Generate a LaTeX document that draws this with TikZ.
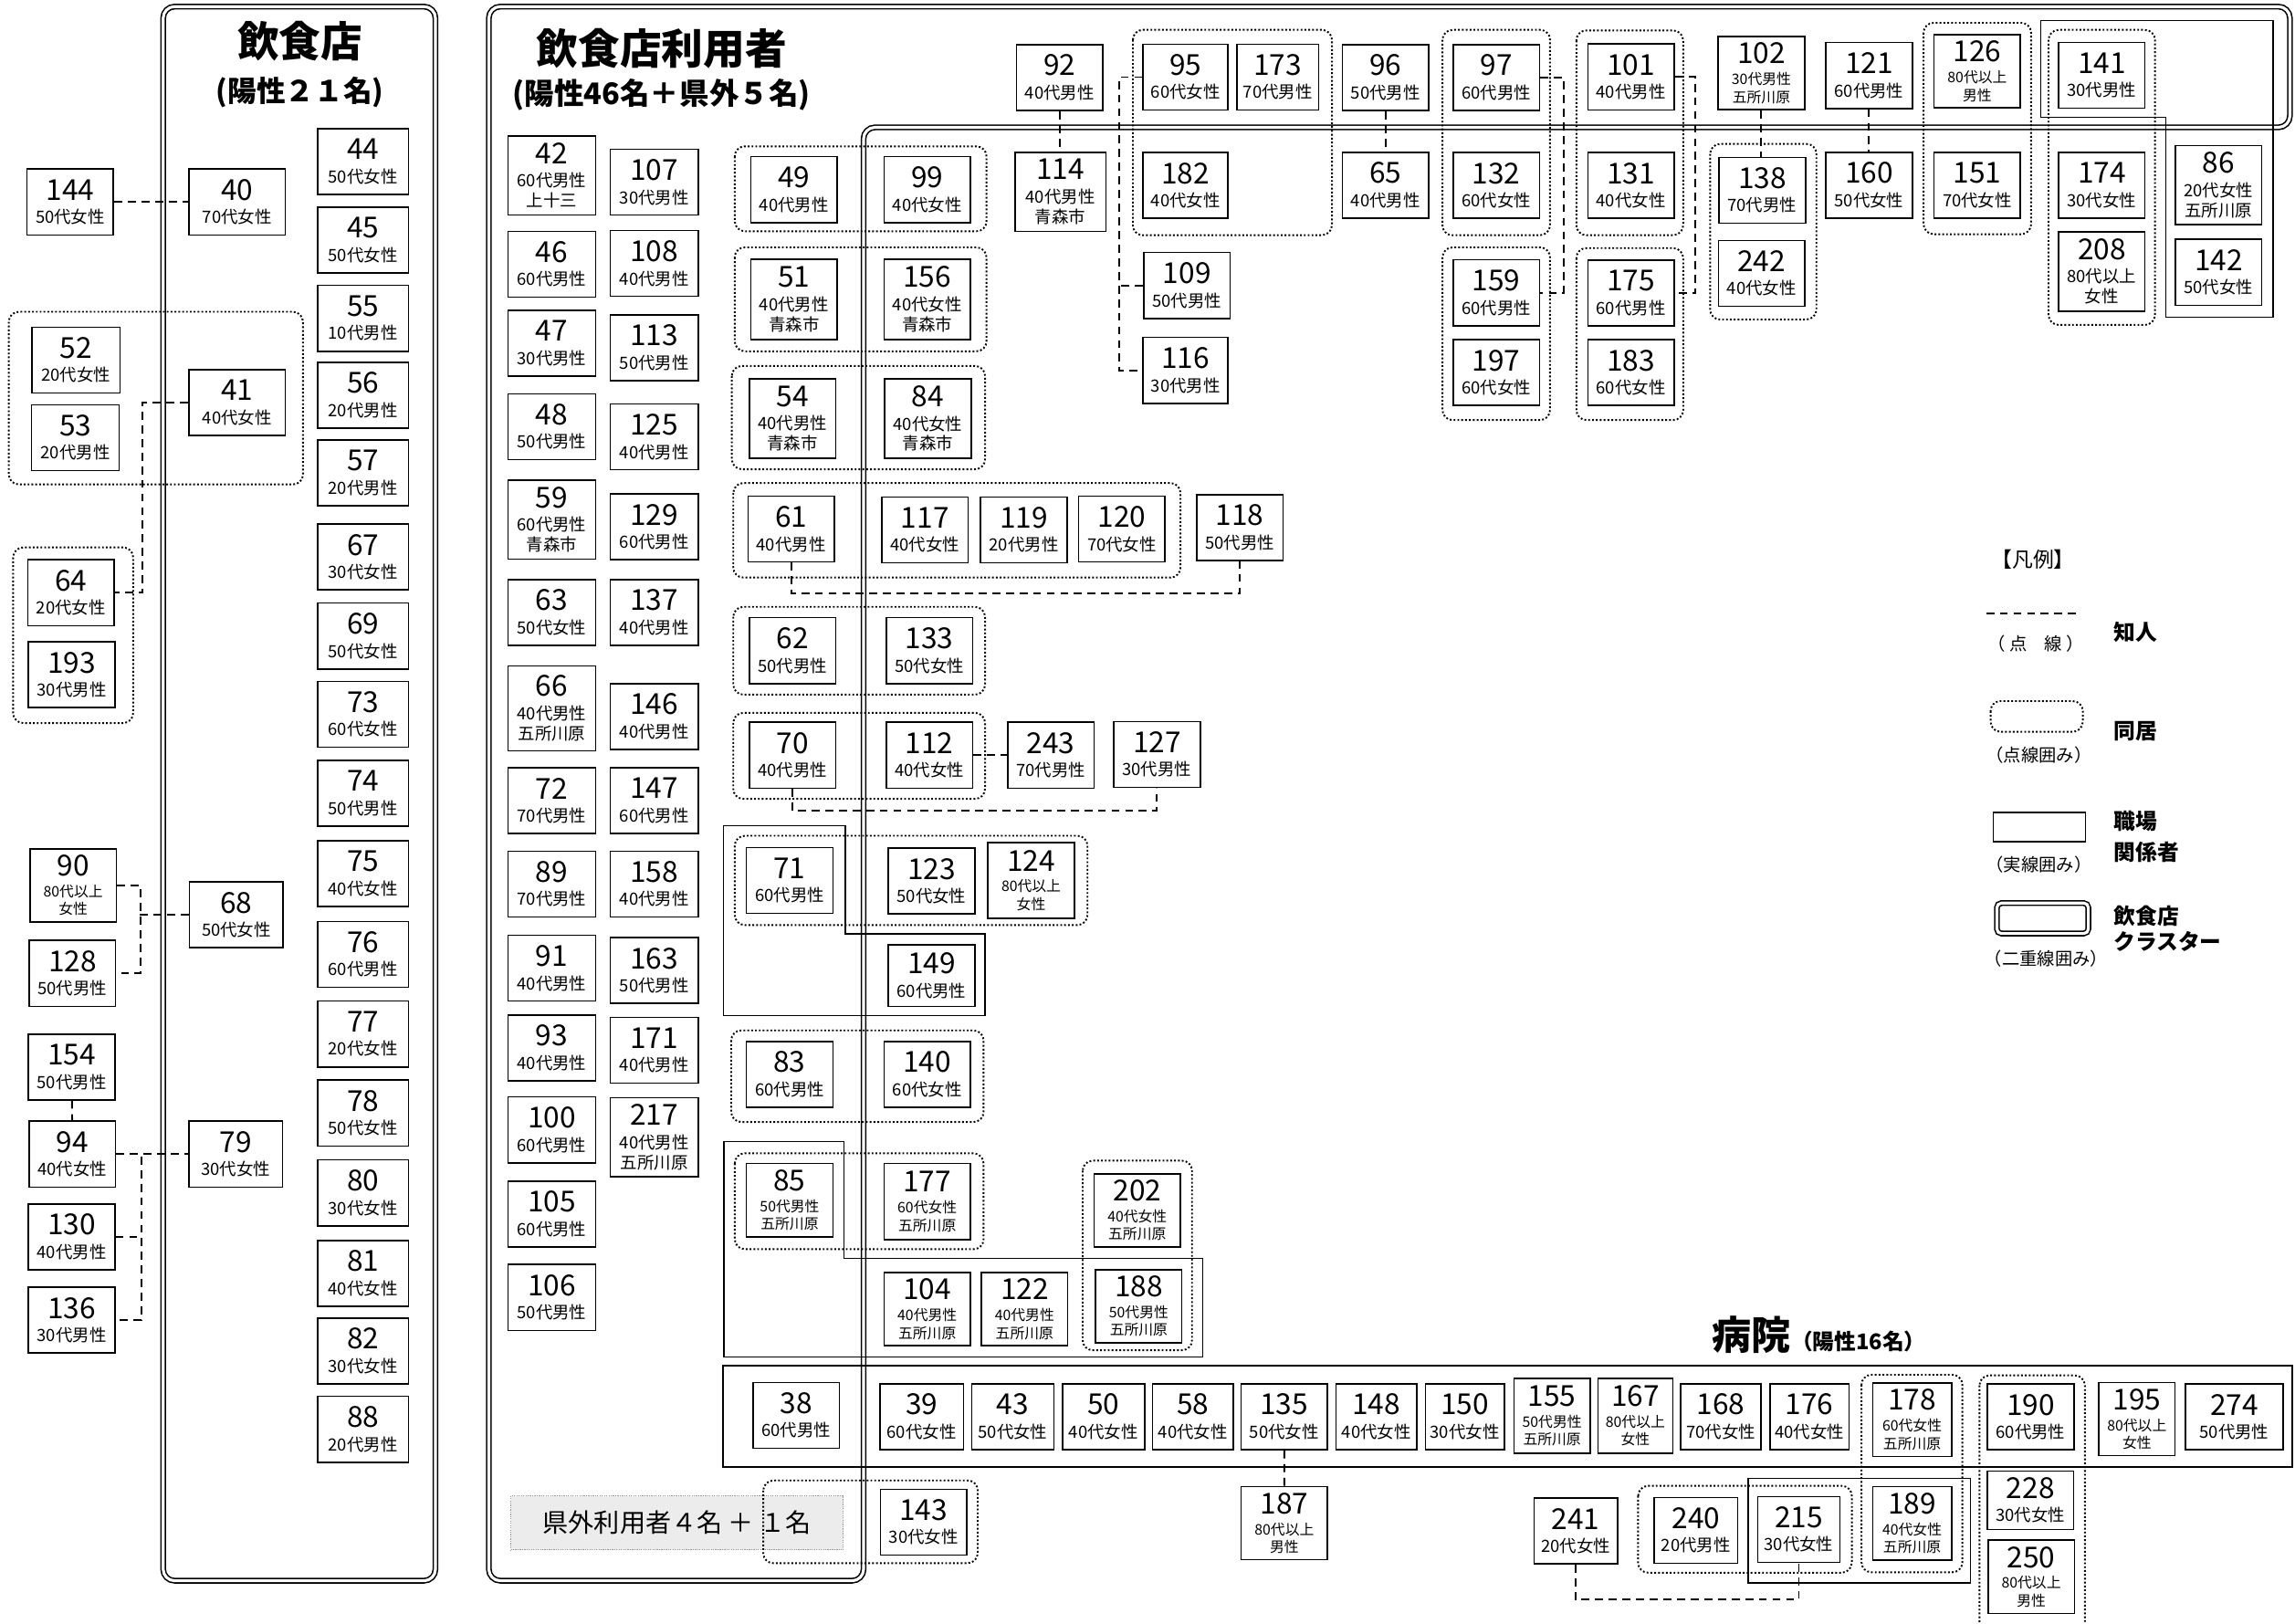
\documentclass[tikz,border=0pt]{standalone}
\usepackage{fontspec}
\setmainfont{Noto Sans CJK JP}
\newlength{\spx}\setlength{\spx}{0.32066mm}
\newcommand{\pc}[2]{{\fontsize{18}{18}\selectfont #1}\\[2pt]#2}

\begin{document}
\begin{tikzpicture}[x=\spx, y=-\spx,
    person/.style={draw, line width=0.9pt, fill=white, inner sep=0pt, align=center,
                   minimum width=59*\spx, minimum height=45*\spx,
                   font=\fontsize{10.5}{12.5}\selectfont},
    sm/.style={font=\fontsize{9}{11}\selectfont},
    bw/.style={minimum width=#1*\spx},
    bh/.style={minimum height=#1*\spx},
    grp/.style={line width=1.1pt, dash pattern=on 1.1pt off 1.3pt, rounded corners=2.2mm},
    work/.style={line width=0.8pt},
    dframe/.style={line width=0.9pt, double, double distance=1.8pt, rounded corners=2.5mm},
    acq/.style={line width=1.1pt, dash pattern=on 5pt off 3.5pt},
    title/.style={font=\bfseries\fontsize{26}{26}\selectfont, inner sep=0pt},
    sub/.style={font=\bfseries\fontsize{18}{18}\selectfont, inner sep=0pt},
    note/.style={font=\fontsize{11}{12}\selectfont, inner sep=0pt},
    lgl/.style={font=\bfseries\fontsize{13.5}{19}\selectfont, inner sep=0pt, anchor=west, align=left}]
  \useasboundingbox (0,0) rectangle (1568,1109);

  % cluster frames
  \draw[dframe] (111.5,4.5) rectangle (297.5,1080);
  \draw[dframe] (334,4.5) -- (1564.5,4.5) -- (1564.5,87) -- (590,87) -- (590,1080) -- (334,1080) -- cycle;
  \node[title] (tshop) at (205,28) {飲食店};
  \node[sub] (tshopn) at (205,63) {(陽性２１名)};
  \node[title] (tuser) at (452,33) {飲食店利用者};
  \node[sub, font=\bfseries\fontsize{18.5}{18.5}\selectfont] (tusern) at (452,65) {(陽性46名＋県外５名)};

  % households
  \draw[grp] (6,213) rectangle (207,331);
  \draw[grp] (9,374) rectangle (91,494);
  \draw[grp] (502,100) rectangle (674,158);
  \draw[grp] (502,169) rectangle (674,240);
  \draw[grp] (500,250) rectangle (673,320.6);
  \draw[grp] (501,330) rectangle (806.5,394.6);
  \draw[grp] (501,414.6) rectangle (673,474.6);
  \draw[grp] (501,487) rectangle (673,545.8);
  \draw[grp] (502,571) rectangle (743,632);
  \draw[grp] (499.6,704) rectangle (672,766.6);
  \draw[grp] (502,788) rectangle (672,853.5);
  \draw[grp] (739.7,793) rectangle (814.4,922.5);
  \draw[grp] (774,20.4) rectangle (910,160.7);
  \draw[grp] (985.5,20.4) rectangle (1059,160.7);
  \draw[grp] (985.5,169) rectangle (1059,287);
  \draw[grp] (1077,20.8) rectangle (1150,160.7);
  \draw[grp] (1077,169.5) rectangle (1150,287);
  \draw[grp] (1168.4,98.3) rectangle (1241,218.3);
  \draw[grp] (1314.2,15.6) rectangle (1387.7,160);
  \draw[grp] (1399.6,20.4) rectangle (1472.3,222);
  \draw[grp] (1119.2,1015.2) rectangle (1265.2,1074.5);
  \draw[grp] (1271.8,939.3) rectangle (1340.7,1074.2);
  \draw[grp] (1352.4,939.7) rectangle (1424.4,1118);

  % workplaces
  \draw[work] (494.4,564) -- (577.6,564) -- (577.6,638) -- (673,638) -- (673,694) -- (494.4,694) -- cycle;
  \draw[work] (494.6,780) -- (576.5,780) -- (576.5,859.6) -- (821.8,859.6) -- (821.8,927.3) -- (494.6,927.3) -- cycle;
  \draw[work] (1194.3,1010) rectangle (1346.2,1081.5);
  \draw[work] (1394.4,14.1) -- (1552.9,14.1) -- (1552.9,216.6) -- (1479.8,216.6) -- (1479.8,80) -- (1394.4,80) -- cycle;
  \draw[line width=1.3pt] (494,933) rectangle (1566,1002.5);
  \node[font=\bfseries\fontsize{24.5}{25}\selectfont, inner sep=0pt] (hosp) at (1196.5,912) {病院};
  \node[font=\bfseries\fontsize{13.5}{14}\selectfont, inner sep=0pt, anchor=base west] (hospn) at (hosp.base east) {（陽性16名）};

  \node[draw=gray!80, line width=0.6pt, dash pattern=on 0.7pt off 0.7pt, fill=gray!15,
        minimum width=227*\spx, minimum height=37*\spx,
        font=\fontsize{16}{16}\selectfont] (kengai) at (462.5,1040.5) {県外利用者４名 ＋ １名};
  \draw[grp] (521.5,1011.5) rectangle (668,1068);

  % restaurant side
  \node[person] (p144) at (48,138) {\pc{144}{50代女性}};
  \node[person, bw=60] (p52) at (52,246) {\pc{52}{20代女性}};
  \node[person, bw=60] (p53) at (51.5,299) {\pc{53}{20代男性}};
  \node[person] (p64) at (48.5,405) {\pc{64}{20代女性}};
  \node[person] (p193) at (49,461) {\pc{193}{30代男性}};
  \node[person, sm, bh=50] (p90) at (50,605) {\pc{90}{80代以上\\女性}};
  \node[person] (p128) at (49.5,665) {\pc{128}{50代男性}};
  \node[person] (p154) at (49,729) {\pc{154}{50代男性}};
  \node[person] (p94) at (49.5,788.5) {\pc{94}{40代女性}};
  \node[person] (p130) at (49,845) {\pc{130}{40代男性}};
  \node[person] (p136) at (49,902) {\pc{136}{30代男性}};
  \node[person, bw=66] (p40) at (162,138) {\pc{40}{70代女性}};
  \node[person, bw=66] (p41) at (162,275) {\pc{41}{40代女性}};
  \node[person, bw=64] (p68) at (161.5,625) {\pc{68}{50代女性}};
  \node[person, bw=64] (p79) at (161,788.5) {\pc{79}{30代女性}};
  \foreach \nn/\yy/\lb in {44/110.5/50代女性, 45/164/50代女性, 55/217.5/10代男性, 56/270/20代男性,
      57/323/20代男性, 67/380.5/30代女性, 69/434.5/50代女性, 73/488/60代女性, 74/542/50代男性,
      75/597/40代女性, 76/652/60代男性, 77/706.5/20代女性, 78/760.5/50代女性, 80/815/30代女性,
      81/870/40代女性, 82/923/30代女性, 88/976.5/20代男性}
    \node[person, bw=62] (p\nn) at (248,\yy) {\pc{\nn}{\lb}};

  % users, left columns
  \foreach \nn/\yy/\hh/\lb in {42/120/54/60代男性\\上十三, 46/180.5/45/60代男性, 47/234.5/45/30代男性,
      48/291.5/45/50代男性, 59/355/54/60代男性\\青森市, 63/418.5/45/50代女性,
      66/484/58/40代男性\\五所川原, 72/547/45/70代男性, 89/604/45/70代男性, 91/661.5/45/40代男性,
      93/716/45/40代男性, 100/772/45/60代男性, 105/829.5/45/60代男性, 106/886.5/45/50代男性}
    \node[person, bw=60, bh=\hh] (p\nn) at (377,\yy) {\pc{\nn}{\lb}};
  \foreach \nn/\yy/\hh/\lb in {107/124.5/45/30代男性, 108/180/45/40代男性, 113/237.5/45/50代男性,
      125/298.5/45/40代男性, 129/360/45/60代男性, 137/418.5/45/40代男性, 146/489.5/45/40代男性,
      147/547/45/60代男性, 158/604/45/40代男性, 163/663/45/50代男性, 171/717.5/45/40代男性,
      217/777/54/40代男性\\五所川原}
    \node[person, bw=60, bh=\hh] (p\nn) at (447,\yy) {\pc{\nn}{\lb}};

  % users, middle
  \node[person] (p49) at (542.5,129.5) {\pc{49}{40代男性}};
  \node[person] (p99) at (633.5,129.5) {\pc{99}{40代女性}};
  \node[person, bh=55] (p51) at (542.5,204.5) {\pc{51}{40代男性\\青森市}};
  \node[person, bh=55] (p156) at (633.5,204.5) {\pc{156}{40代女性\\青森市}};
  \node[person, bh=54] (p54) at (541.5,286) {\pc{54}{40代男性\\青森市}};
  \node[person, bh=54] (p84) at (634,286) {\pc{84}{40代女性\\青森市}};
  \node[person] (p61) at (540.5,361.5) {\pc{61}{40代男性}};
  \node[person] (p117) at (632,362) {\pc{117}{40代女性}};
  \node[person] (p119) at (699.5,362) {\pc{119}{20代男性}};
  \node[person] (p120) at (766.5,361.5) {\pc{120}{70代女性}};
  \node[person] (p118) at (847,360.5) {\pc{118}{50代男性}};
  \node[person] (p62) at (541.5,444.5) {\pc{62}{50代男性}};
  \node[person] (p133) at (635,444.5) {\pc{133}{50代女性}};
  \node[person] (p70) at (541.5,516) {\pc{70}{40代男性}};
  \node[person] (p112) at (635,516) {\pc{112}{40代女性}};
  \node[person] (p243) at (718,516) {\pc{243}{70代男性}};
  \node[person] (p127) at (790.5,515.5) {\pc{127}{30代男性}};
  \node[person] (p71) at (539.5,601.5) {\pc{71}{60代男性}};
  \node[person] (p123) at (636.5,602) {\pc{123}{50代女性}};
  \node[person, sm, bh=52] (p124) at (704.5,601.5) {\pc{124}{80代以上\\女性}};
  \node[person, bh=42] (p149) at (636.5,666.5) {\pc{149}{60代男性}};
  \node[person] (p83) at (539.5,734) {\pc{83}{60代男性}};
  \node[person] (p140) at (633.5,734) {\pc{140}{60代女性}};
  \node[person, sm, bh=50] (p85) at (539.5,820) {\pc{85}{50代男性\\五所川原}};
  \node[person, sm, bh=52] (p177) at (633.5,821) {\pc{177}{60代女性\\五所川原}};
  \node[person, sm, bh=50] (p202) at (777,827) {\pc{202}{40代女性\\五所川原}};
  \node[person, sm, bh=50] (p104) at (633.5,894.5) {\pc{104}{40代男性\\五所川原}};
  \node[person, sm, bh=50] (p122) at (700,894.5) {\pc{122}{40代男性\\五所川原}};
  \node[person, sm, bh=50] (p188) at (778,892.5) {\pc{188}{50代男性\\五所川原}};
  \node[person] (p143) at (631,1040) {\pc{143}{30代女性}};

  % users, top row
  \node[person] (p92) at (724,53) {\pc{92}{40代男性}};
  \node[person, bw=62, bh=54] (p114) at (724.5,131) {\pc{114}{40代男性\\青森市}};
  \node[person, bw=58] (p95) at (810,52.7) {\pc{95}{60代女性}};
  \node[person, bw=56] (p173) at (873,52.7) {\pc{173}{70代男性}};
  \node[person, bw=58] (p182) at (810,126.7) {\pc{182}{40代女性}};
  \node[person] (p109) at (811,195) {\pc{109}{50代男性}};
  \node[person, bw=58] (p116) at (810,253) {\pc{116}{30代男性}};
  \node[person] (p96) at (946.7,53) {\pc{96}{50代男性}};
  \node[person] (p65) at (946.7,126.5) {\pc{65}{40代男性}};
  \node[person] (p97) at (1022.3,53) {\pc{97}{60代男性}};
  \node[person] (p132) at (1022.3,126.7) {\pc{132}{60代女性}};
  \node[person] (p159) at (1022.3,200) {\pc{159}{60代男性}};
  \node[person] (p197) at (1022.3,254.5) {\pc{197}{60代女性}};
  \node[person] (p101) at (1114.3,52.6) {\pc{101}{40代男性}};
  \node[person] (p131) at (1114.3,126.7) {\pc{131}{40代女性}};
  \node[person] (p175) at (1114.3,200.3) {\pc{175}{60代男性}};
  \node[person] (p183) at (1114.3,254.5) {\pc{183}{60代女性}};
  \node[person, sm, bh=50] (p102) at (1203.4,50) {\pc{102}{30代男性\\五所川原}};
  \node[person] (p138) at (1204,130) {\pc{138}{70代男性}};
  \node[person] (p242) at (1203.6,186.8) {\pc{242}{40代女性}};
  \node[person] (p121) at (1277,51.6) {\pc{121}{60代男性}};
  \node[person] (p160) at (1277,126.5) {\pc{160}{50代女性}};
  \node[person, sm, bh=50] (p126) at (1350.9,48.7) {\pc{126}{80代以上\\男性}};
  \node[person] (p151) at (1350.9,126.5) {\pc{151}{70代女性}};
  \node[person] (p141) at (1436,51.4) {\pc{141}{30代男性}};
  \node[person] (p174) at (1436,126.5) {\pc{174}{30代女性}};
  \node[person, bh=54] (p208) at (1436,185.5) {\pc{208}{80代以上\\女性}};
  \node[person, bh=54] (p86) at (1515.8,126.6) {\pc{86}{20代女性\\五所川原}};
  \node[person] (p142) at (1515.8,186) {\pc{142}{50代女性}};

  % hospital
  \node[person] (p38) at (544,967) {\pc{38}{60代男性}};
  \foreach \nn/\xx/\ww/\lb in {39/629.7/57/60代女性, 43/692/56/50代女性, 50/754/56/40代女性,
      58/815/55/40代女性, 135/877.4/59/50代女性, 148/940.4/55/40代女性, 150/1000.8/54/30代女性,
      168/1175.7/55/70代女性, 176/1236.3/54/40代女性, 190/1387.4/59/60代男性, 274/1526.5/67/50代男性}
    \node[person, bw=\ww] (p\nn) at (\xx,968) {\pc{\nn}{\lb}};
  \node[person, sm, bw=52, bh=51] (p155) at (1060.4,967.4) {\pc{155}{50代男性\\五所川原}};
  \node[person, sm, bw=51, bh=51] (p167) at (1117.3,967.4) {\pc{167}{80代以上\\女性}};
  \node[person, sm, bw=54, bh=50] (p178) at (1306.4,970) {\pc{178}{60代女性\\五所川原}};
  \node[person, sm, bw=52, bh=50] (p195) at (1460,969.5) {\pc{195}{80代以上\\女性}};
  \node[person, sm, bh=50] (p187) at (877.5,1040.6) {\pc{187}{80代以上\\男性}};
  \node[person, bw=57] (p241) at (1076.6,1046) {\pc{241}{20代女性}};
  \node[person, bw=57] (p240) at (1158.7,1045.6) {\pc{240}{20代男性}};
  \node[person, bw=56] (p215) at (1229,1045) {\pc{215}{30代女性}};
  \node[person, sm, bw=54, bh=50] (p189) at (1306.4,1040.8) {\pc{189}{40代女性\\五所川原}};
  \node[person, bh=40] (p228) at (1387.3,1025) {\pc{228}{30代女性}};
  \node[person, sm, bh=50] (p250) at (1387.8,1077.3) {\pc{250}{80代以上\\男性}};

  % acquaintances
  \draw[acq] (p144) -- (p40);
  \draw[acq] (p41.west) -- ++(-31,0) |- (p64.east);
  \draw[acq] (p90.east) -- ++(16,0) |- (p128.east);
  \draw[acq] (p68.west) -- ++(-34,0);
  \draw[acq] (p154) -- (p94);
  \draw[acq] (p94) -- (p79);
  \draw[acq] (p94.east) -- ++(17,0) |- (p136.east);
  \draw[acq] (p130.east) -- ++(17,0);
  \draw[acq] (p92.south) -- (p92.south |- p114.north);
  \draw[acq] (p95.west) -- ++(-16,0) |- (p116.west);
  \draw[acq] (p109.west) -- ++(-16,0);
  \draw[acq] (p96) -- (p65);
  \draw[acq] (p97.east) -- ++(16,0) |- (p159.east);
  \draw[acq] (p101.east) -- ++(14,0) |- (p175.east);
  \draw[acq] (p102.south) -- (p102.south |- p138.north);
  \draw[acq] (p121) -- (p160);
  \draw[acq] (p61.south) -- ++(0,21) -| (p118.south);
  \draw[acq] (p112) -- (p243);
  \draw[acq] (p70.south) -- ++(0,15) -| (p127.south);
  \draw[acq] (p135) -- (p187);
  \draw[acq] (p241.south) -- ++(0,24) -| (p215.south);

  % legend
  \node[font=\fontsize{13}{14}\selectfont, inner sep=0pt] (lgt) at (1389,382) {【凡例】};
  \coordinate (la1) at (1357,419);
  \coordinate (la2) at (1419,419);
  \draw[acq] (la1) -- (la2);
  \node[note] (lga) at (1391,440) {（ 点　線 ）};
  \node[lgl] (lgat) at (1444,432) {知人};
  \draw[grp] (1360,479) rectangle (1423,500);
  \node[note] (lgb) at (1393,516) {（点線囲み）};
  \node[lgl] (lgbt) at (1444,499.5) {同居};
  \draw[work] (1361.8,555) rectangle (1424.8,575);
  \node[note] (lgc) at (1393,591) {（実線囲み）};
  \node[lgl] (lgct) at (1444,571.5) {職場\\関係者};
  \draw[dframe, rounded corners=1mm] (1364.3,617) rectangle (1426.8,637.8);
  \node[note] (lgd) at (1398,655) {（二重線囲み）};
  \node[lgl, font=\bfseries\fontsize{13.5}{16}\selectfont] (lgdt) at (1444,634.5) {飲食店\\クラスター};
\end{tikzpicture}
\end{document}
